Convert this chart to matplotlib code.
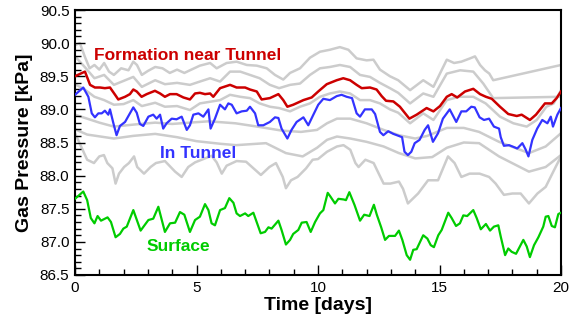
import numpy as np
import matplotlib
matplotlib.use("Agg")
import matplotlib.pyplot as plt
from matplotlib.ticker import MultipleLocator, FormatStrFormatter

plt.rcParams['font.family'] = ['Liberation Sans', 'DejaVu Sans']

# surface (green)
surface_t = [0.00, 0.34, 0.50, 0.65, 0.80, 0.93, 1.07, 1.34, 1.48, 1.67, 1.85, 1.99, 2.13, 2.40, 2.70,
             3.02, 3.22, 3.43, 3.70, 3.91, 4.12, 4.32, 4.50, 4.73, 4.94, 5.14, 5.35, 5.49, 5.62, 5.76,
             5.97, 6.17, 6.35, 6.52, 6.65, 6.79, 7.00, 7.13, 7.34, 7.64, 7.82, 7.96, 8.09, 8.37, 8.50,
             8.68, 8.85, 8.98, 9.19, 9.33, 9.53, 9.70, 9.88, 10.08, 10.22, 10.40, 10.50, 10.70, 10.84,
             11.06, 11.15, 11.29, 11.50, 11.73, 11.90, 12.12, 12.30, 12.42, 12.60, 12.76, 12.92, 13.17,
             13.33, 13.47, 13.65, 13.79, 13.92, 14.06, 14.33, 14.50, 14.64, 14.77, 14.95, 15.09, 15.36,
             15.50, 15.68, 15.84, 15.98, 16.14, 16.39, 16.53, 16.70, 16.91, 17.08, 17.24, 17.42, 17.52,
             17.70, 17.83, 17.97, 18.15, 18.45, 18.59, 18.72, 18.89, 19.07, 19.27, 19.37, 19.48, 19.62,
             19.75, 19.89, 20.00]
surface_p = [87.65, 87.76, 87.63, 87.36, 87.28, 87.39, 87.32, 87.37, 87.30, 87.07, 87.12, 87.20, 87.23, 87.48, 87.17,
             87.33, 87.35, 87.53, 87.15, 87.28, 87.29, 87.45, 87.41, 87.15, 87.33, 87.38, 87.57, 87.48, 87.28, 87.25,
             87.48, 87.51, 87.66, 87.59, 87.43, 87.39, 87.43, 87.39, 87.44, 87.13, 87.15, 87.22, 87.20, 87.32, 87.18,
             86.96, 87.03, 87.12, 87.18, 87.29, 87.30, 87.15, 87.30, 87.43, 87.48, 87.74, 87.69, 87.58, 87.65,
             87.64, 87.63, 87.75, 87.56, 87.32, 87.41, 87.39, 87.56, 87.41, 87.22, 87.03, 87.09, 87.09,
             87.17, 87.03, 86.80, 86.73, 86.88, 86.89, 87.10, 87.05, 86.95, 86.92, 87.10, 87.18, 87.44,
             87.36, 87.24, 87.28, 87.40, 87.39, 87.48, 87.36, 87.19, 87.27, 87.17, 87.23, 87.25, 87.08,
             86.80, 86.90, 86.85, 86.82, 87.03, 86.93, 86.77, 86.95, 87.07, 87.23, 87.38, 87.39, 87.24,
             87.22, 87.42, 87.44]

# formation near tunnel (red)
formation_t = [0.00, 0.41, 0.62, 0.82, 1.03, 1.23, 1.44, 1.65, 1.78, 2.06, 2.26, 2.40, 2.54, 2.74, 2.95,
               3.29, 3.50, 3.70, 3.91, 4.18, 4.46, 4.73, 4.94, 5.14, 5.35, 5.56, 5.69, 5.97, 6.38, 6.65,
               7.00, 7.20, 7.48, 7.68, 8.02, 8.37, 8.57, 8.74, 8.98, 9.40, 9.74, 10.01, 10.36, 10.77,
               11.04, 11.32, 11.59, 11.80, 12.14, 12.41, 12.62, 12.80, 13.10, 13.37, 13.76, 14.06, 14.47,
               14.75, 15.02, 15.30, 15.50, 15.73, 16.05, 16.39, 16.67, 16.91, 17.15, 17.49, 17.83, 18.18,
               18.38, 18.72, 18.97, 19.34, 19.62, 19.82, 20.00]
formation_p = [89.50, 89.57, 89.37, 89.33, 89.33, 89.32, 89.33, 89.22, 89.15, 89.19, 89.23, 89.30, 89.27, 89.19, 89.23,
               89.28, 89.24, 89.19, 89.23, 89.23, 89.18, 89.15, 89.24, 89.25, 89.23, 89.24, 89.19, 89.32, 89.37, 89.33,
               89.33, 89.30, 89.27, 89.15, 89.17, 89.23, 89.14, 89.04, 89.07, 89.14, 89.18, 89.27, 89.38, 89.44,
               89.47, 89.44, 89.37, 89.32, 89.33, 89.30, 89.20, 89.13, 89.12, 89.04, 88.86, 88.92, 89.02,
               88.97, 89.05, 89.19, 89.23, 89.18, 89.27, 89.31, 89.23, 89.19, 89.16, 89.04, 88.93, 88.90,
               88.92, 88.84, 88.92, 89.09, 89.09, 89.17, 89.27]

# in tunnel (blue)
tunnel_t = [0.00, 0.34, 0.55, 0.69, 0.82, 0.96, 1.10, 1.23, 1.37, 1.44, 1.58, 1.71, 1.85, 2.06, 2.26,
            2.40, 2.54, 2.67, 2.81, 3.02, 3.22, 3.36, 3.50, 3.63, 3.77, 3.98, 4.18, 4.39, 4.60, 4.73,
            4.87, 5.08, 5.28, 5.49, 5.58, 5.76, 5.97, 6.17, 6.31, 6.45, 6.65, 6.86, 7.07, 7.20, 7.41,
            7.54, 7.75, 8.02, 8.23, 8.37, 8.50, 8.74, 8.91, 9.12, 9.40, 9.60, 9.81, 10.01, 10.22, 10.49,
            10.77, 10.97, 11.18, 11.40, 11.59, 11.73, 11.93, 12.21, 12.35, 12.55, 12.69, 12.89, 13.10,
            13.32, 13.46, 13.56, 13.70, 13.84, 13.98, 14.18, 14.39, 14.53, 14.73, 14.94, 15.14, 15.42,
            15.69, 15.90, 16.10, 16.31, 16.45, 16.65, 16.83, 17.04, 17.24, 17.45, 17.52, 17.65, 17.86,
            18.00, 18.20, 18.41, 18.55, 18.66, 18.82, 19.02, 19.23, 19.44, 19.58, 19.67, 19.85, 20.00]
tunnel_p = [89.22, 89.33, 89.19, 88.94, 88.88, 88.94, 88.94, 88.98, 88.92, 89.00, 88.79, 88.61, 88.75, 88.81, 88.94,
            89.03, 88.95, 88.78, 88.75, 88.89, 88.92, 88.86, 88.92, 88.71, 88.79, 88.86, 88.85, 88.89, 88.69, 88.76,
            88.92, 88.94, 88.89, 89.00, 88.71, 88.86, 89.07, 89.00, 89.09, 89.07, 88.94, 88.97, 88.98, 89.04, 88.94,
            88.76, 88.76, 88.81, 88.88, 88.87, 88.71, 88.56, 88.69, 88.81, 88.88, 88.76, 88.92, 89.07, 89.16, 89.14,
            89.20, 89.22, 89.19, 89.17, 88.94, 88.89, 89.00, 89.00, 88.93, 88.66, 88.61, 88.67, 88.63,
            88.60, 88.58, 88.36, 88.31, 88.36, 88.49, 88.54, 88.69, 88.76, 88.51, 88.64, 88.86, 89.00,
            88.81, 88.97, 88.97, 89.04, 89.03, 88.88, 88.84, 88.86, 88.74, 88.71, 88.58, 88.45, 88.46,
            88.44, 88.41, 88.49, 88.39, 88.29, 88.54, 88.71, 88.84, 88.79, 88.89, 88.74, 88.92, 89.02]

# other simulated curves (grey)
grey1_t = [0.0, 0.2, 0.4, 0.6, 0.8, 1.0, 1.2, 1.4, 1.6, 1.9, 2.2, 2.4, 2.55, 2.75, 3.0, 3.3, 3.6, 3.9, 4.2,
           4.5, 4.73, 5.14, 5.56, 5.83, 6.24, 6.65, 7.07, 7.48, 7.89, 8.23, 8.57, 8.85, 9.26, 9.67, 10.08,
           10.49, 10.9, 11.25, 11.59, 12.0, 12.28, 12.55, 12.96, 13.3, 13.79, 14.33, 14.75, 15.3, 15.6,
           15.9, 16.26, 16.46, 16.67, 16.87, 17.05, 17.21, 20.0]
grey1_p = [89.97, 90.00, 89.80, 89.62, 89.67, 89.60, 89.70, 89.57, 89.52, 89.62, 89.59, 89.72, 89.67, 89.52, 89.58,
           89.64, 89.62, 89.55, 89.60, 89.55, 89.59, 89.66, 89.70, 89.62, 89.70, 89.72, 89.67, 89.66, 89.62, 89.52,
           89.45, 89.55, 89.62, 89.78, 89.87, 89.90, 89.94, 89.90, 89.77, 89.74, 89.75, 89.60, 89.50, 89.44,
           89.29, 89.44, 89.34, 89.75, 89.70, 89.72, 89.77, 89.80, 89.67, 89.59, 89.54, 89.44, 89.67]

grey2_t = [0.0, 0.4, 0.8, 1.2, 1.6, 1.8, 2.4, 2.75, 3.3, 3.7, 4.2, 4.73, 5.14, 5.56, 5.97, 6.38, 6.8, 7.2,
           7.6, 8.02, 8.4, 8.85, 9.26, 9.67, 10.08, 10.49, 10.9, 11.32, 11.73, 12.14, 12.55, 12.96, 13.3,
           13.79, 14.33, 14.75, 15.3, 15.85, 16.39, 16.8, 17.21, 20.0]
grey2_p = [89.80, 89.64, 89.47, 89.52, 89.37, 89.40, 89.49, 89.34, 89.44, 89.38, 89.40, 89.37, 89.42, 89.47,
           89.42, 89.57, 89.57, 89.52, 89.47, 89.37, 89.32, 89.37, 89.39, 89.52, 89.62, 89.64, 89.67, 89.64,
           89.52, 89.49, 89.40, 89.32, 89.25, 89.09, 89.24, 89.19, 89.54, 89.59, 89.57, 89.39, 89.17, 89.19]

grey3_t = [0.0, 0.4, 0.8, 1.2, 1.6, 2.0, 2.4, 2.75, 3.3, 3.7, 4.2, 4.73, 5.14, 5.97, 6.38, 6.8, 7.2, 7.6,
           8.02, 8.4, 8.85, 9.26, 9.67, 10.08, 10.49, 10.9, 11.32, 11.73, 12.14, 12.55, 12.96, 13.3, 13.79,
           14.33, 14.75, 15.3, 15.8, 16.39, 16.9, 17.49, 18.04, 18.59, 19.0, 19.4, 19.7, 20.0]
grey3_p = [89.38, 89.30, 89.19, 89.14, 89.07, 89.08, 89.14, 89.05, 89.10, 89.04, 89.05, 88.99, 89.09, 89.14,
           89.22, 89.19, 89.17, 89.09, 89.04, 89.02, 88.97, 89.04, 89.09, 89.19, 89.24, 89.27, 89.24, 89.14,
           89.14, 89.09, 89.00, 88.95, 88.79, 88.94, 88.84, 89.14, 89.19, 89.19, 89.09, 88.89, 88.79, 88.74,
           88.84, 89.04, 89.09, 89.29]

grey4_t = [0.0, 0.5, 1.0, 1.6, 2.4, 3.3, 4.0, 4.73, 5.5, 6.6, 7.5, 8.5, 9.3, 9.96, 10.37, 10.78, 11.33,
           12.0, 12.7, 13.33, 14.0, 14.5, 15.3, 16.0, 16.63, 17.45, 18.68, 19.37, 20.0]
grey4_p = [88.92, 88.86, 88.80, 88.74, 88.77, 88.80, 88.78, 88.80, 88.82, 88.79, 88.74, 88.68, 88.66, 88.69,
           88.79, 88.86, 88.86, 88.79, 88.69, 88.61, 88.56, 88.60, 88.72, 88.72, 88.66, 88.51, 88.34, 88.44, 88.64]

grey5_t = [0.0, 0.5, 1.6, 2.4, 3.3, 4.2, 5.0, 6.0, 6.63, 7.86, 8.68, 9.37, 9.96, 10.37, 10.78, 11.33,
           12.0, 12.7, 13.33, 14.0, 14.7, 15.3, 16.0, 16.63, 17.45, 18.68, 19.37, 20.0]
grey5_p = [88.70, 88.62, 88.56, 88.60, 88.63, 88.58, 88.52, 88.48, 88.46, 88.49, 88.34, 88.29, 88.42, 88.54,
           88.59, 88.56, 88.51, 88.44, 88.34, 88.26, 88.28, 88.42, 88.50, 88.49, 88.29, 88.06, 88.13, 88.31]

grey6_t = [0.0, 0.25, 0.5, 0.78, 1.0, 1.19, 1.33, 1.54, 1.67, 1.81, 2.02, 2.22, 2.43, 2.56, 2.84, 3.11,
           3.33, 3.70, 4.12, 4.39, 4.66, 4.94, 5.35, 5.62, 5.83, 6.04, 6.24, 6.65, 7.04, 7.65, 8.0, 8.27,
           8.55, 8.68, 8.89, 9.16, 9.51, 9.78, 10.0, 10.37, 10.78, 11.05, 11.33, 11.54, 11.67, 11.95,
           12.29, 12.50, 12.70, 12.98, 13.33, 13.50, 13.70, 14.12, 14.53, 14.94, 15.35, 15.62, 15.90,
           16.24, 16.65, 17.04, 17.31, 17.65, 18.0, 18.34, 18.68, 19.03, 19.37, 19.71, 20.0]
grey6_p = [88.64, 88.44, 88.24, 88.19, 88.29, 88.31, 88.19, 88.11, 87.88, 88.03, 88.13, 88.19, 88.29, 88.13,
           88.03, 88.13, 88.19, 88.22, 88.06, 87.98, 88.13, 88.20, 88.26, 88.30, 88.20, 88.03, 88.15, 88.22,
           88.21, 88.01, 88.13, 88.19, 87.98, 87.81, 87.93, 87.98, 88.11, 88.24, 88.25, 88.36, 88.44, 88.46,
           88.39, 88.19, 88.13, 88.24, 88.19, 88.03, 87.88, 87.88, 87.91, 87.80, 87.58, 87.73, 87.93, 87.93,
           88.29, 88.19, 87.98, 88.03, 88.03, 87.98, 87.88, 87.71, 87.73, 87.73, 87.58, 87.73, 87.83, 88.08,
           88.29]

grey_lines = [(grey1_t, grey1_p), (grey2_t, grey2_p), (grey3_t, grey3_p),
              (grey4_t, grey4_p), (grey5_t, grey5_p), (grey6_t, grey6_p)]

fig = plt.figure(figsize=(5.74, 3.21), dpi=100)
ax = fig.add_axes([75 / 574, 1 - 275 / 321, 486 / 574, 265 / 321])

for t, p in grey_lines:
    ax.plot(t, p, color='#cccccc', lw=1.8, zorder=1)

ax.plot(formation_t, formation_p, color='#cc0000', lw=1.8, zorder=3)
ax.plot(tunnel_t, tunnel_p, color='#3333ff', lw=1.6, zorder=3)
ax.plot(surface_t, surface_p, color='#00cc00', lw=1.6, zorder=3)

ax.text(0.8, 89.81, 'Formation near Tunnel', color='#cc0000', fontsize=12.5, fontweight='bold',
        va='center', ha='left', zorder=5)
ax.text(3.5, 88.34, 'In Tunnel', color='#3333ff', fontsize=12.5, fontweight='bold',
        va='center', ha='left', zorder=5)
ax.text(2.95, 86.93, 'Surface', color='#00cc00', fontsize=12.5, fontweight='bold',
        va='center', ha='left', zorder=5)

ax.set_xlim(0, 20)
ax.set_ylim(86.5, 90.5)
ax.xaxis.set_major_locator(MultipleLocator(5))
ax.xaxis.set_minor_locator(MultipleLocator(1))
ax.yaxis.set_major_locator(MultipleLocator(0.5))
ax.yaxis.set_minor_locator(MultipleLocator(0.1))
ax.yaxis.set_major_formatter(FormatStrFormatter('%.1f'))
ax.tick_params(which='both', direction='in', top=False, right=False, labelsize=11, width=1)
ax.tick_params(which='major', length=7, pad=4)
ax.tick_params(which='minor', length=4)
for s in ax.spines.values():
    s.set_linewidth(1.5)

ax.set_xlabel('Time [days]', fontsize=14, fontweight='bold', labelpad=2)
ax.set_ylabel('Gas Pressure [kPa]', fontsize=14, fontweight='bold', labelpad=5)

fig.savefig('out.png', dpi=100)
